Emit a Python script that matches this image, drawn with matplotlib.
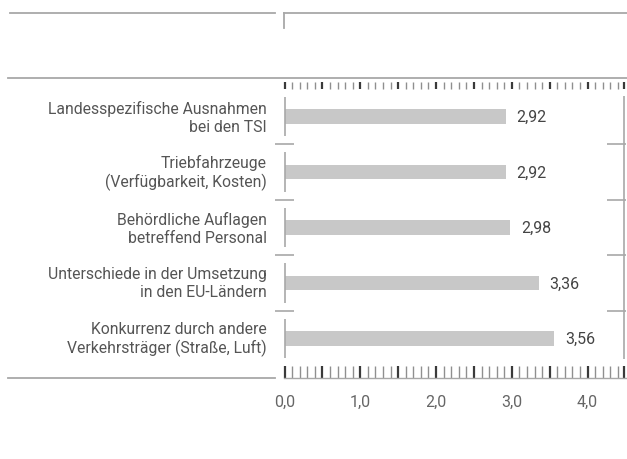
import matplotlib
matplotlib.use("Agg")
import matplotlib.pyplot as plt
from matplotlib.lines import Line2D
import numpy as np

categories = [
    "Landesspezifische Ausnahmen\nbei den TSI",
    "Triebfahrzeuge\n(Verfügbarkeit, Kosten)",
    "Behördliche Auflagen\nbetreffend Personal",
    "Unterschiede in der Umsetzung\nin den EU-Ländern",
    "Konkurrenz durch andere\nVerkehrsträger (Straße, Luft)",
]
values = [2.92, 2.92, 2.98, 3.36, 3.56]
value_labels = ["2,92", "2,92", "2,98", "3,36", "3,56"]
tick_values = [0.0, 1.0, 2.0, 3.0, 4.0]
tick_labels = ["0,0", "1,0", "2,0", "3,0", "4,0"]

plt.rcParams['font.family'] = ['Roboto', 'DejaVu Sans']

W, H = 627, 460
fig = plt.figure(figsize=(W / 100, H / 100), dpi=100)

# axes in pixel layout
x0, x1 = 284.5, 625.5
y_top, y_bot = 79, 379
ax = fig.add_axes([x0 / W, 1 - y_bot / H, (x1 - x0) / W, (y_bot - y_top) / H])
ax.set_xlim(0, 4.5)
row_px = 55.5
c0 = 117.5
ax.set_ylim((y_bot - c0) / row_px, (y_top - c0) / row_px)
ax.axis("off")

n = len(categories)
ypos = np.arange(n)
line_c = "#a8a8a8"

ax.barh(ypos, values, height=0.27, color="#c8c8c8", edgecolor="none", zorder=2)
for y, v, lab in zip(ypos, values, value_labels):
    ax.text(v + 0.14, y, lab, va="center", ha="left", fontsize=11.5, color="#444444")

# category labels
for y, cat in zip(ypos, categories):
    ax.text(-0.23, y, cat, va="center", ha="right", fontsize=11.3, color="#555555",
            linespacing=1.25, clip_on=False)

# left per-row vertical segments
ax.vlines([0] * n, ypos - 0.36, ypos + 0.36, color=line_c, lw=1.2, clip_on=False)
# separators
seps = np.arange(n - 1) + 0.5
ax.hlines(seps, -0.125, 0.125, color=line_c, lw=1.2, clip_on=False)
ax.hlines(seps, 4.26, 4.5, color=line_c, lw=1.2, clip_on=False)
# right continuous line
ax.vlines([4.48], -0.37, n - 1 + 0.37, color=line_c, lw=1.2, clip_on=False)

# rulers
xt = ax.get_xaxis_transform()
minor = np.round(np.arange(0, 4.51, 0.1), 2)
major_mask = np.isclose((minor * 2) % 1, 0) | np.isclose((minor * 2) % 1, 1)
t_len_top = 11 / (y_bot - y_top)
t_len_bot = 12 / (y_bot - y_top)
for xv, mj in zip(minor, major_mask):
    col = "#3a3a3a" if mj else "#8f8f8f"
    lw = 1.6 if mj else 1.0
    xv_plot = min(xv, 4.485)
    ax.plot([xv_plot, xv_plot], [1 - 0.012, 1 - t_len_top], transform=xt, color=col, lw=lw,
            clip_on=False, solid_capstyle="butt")
    ax.plot([xv_plot, xv_plot], [0.0, t_len_bot], transform=xt, color=col, lw=lw,
            clip_on=False, solid_capstyle="butt")

# tick labels
for tv, tl in zip(tick_values, tick_labels):
    ax.text(tv, -0.077, tl, transform=xt, ha="center", va="center", fontsize=11.5,
            color="#666666", clip_on=False)

# figure-level decorative lines (pixel coordinates -> figure fraction)
def fl(xs, ys, **kw):
    fig.add_artist(Line2D([x / W for x in xs], [1 - y / H for y in ys],
                          transform=fig.transFigure, **kw))

fl([10, 275], [14, 14], color=line_c, lw=1.3)
fl([284, 627], [14, 14], color=line_c, lw=1.3)
fl([284, 284], [14, 29], color=line_c, lw=1.3)
fl([8, 627], [79, 79], color=line_c, lw=1.3)
fl([8, 275], [378.5, 378.5], color=line_c, lw=1.3)
fl([284, 626], [378.5, 378.5], color=line_c, lw=1.0)

fig.savefig("out.png", dpi=100)
